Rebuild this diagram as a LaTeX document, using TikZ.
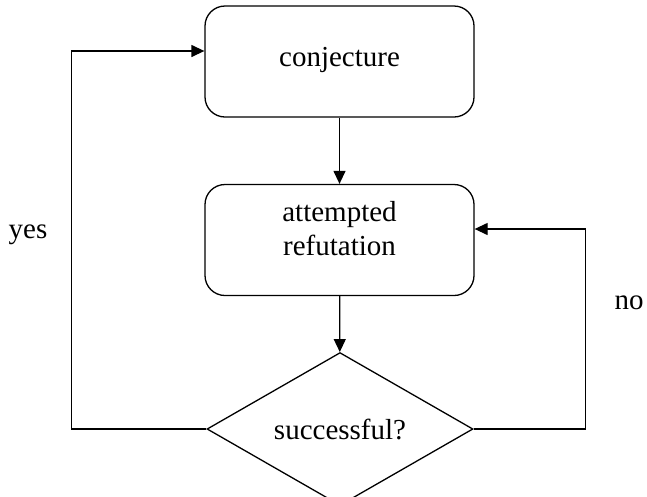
\documentclass[tikz,border=0pt]{standalone}
\usepackage{fontspec}
\setmainfont{Liberation Serif}
\usetikzlibrary{arrows.meta,shapes.geometric,positioning}

\begin{document}
\begin{tikzpicture}[x=1pt, y=-1pt, line width=1.3pt,
    stepbox/.style={draw, rounded corners=20pt, minimum width=269pt, minimum height=111pt, align=center, font=\fontsize{29}{34}\selectfont},
    testbox/.style={draw, diamond, inner sep=0pt, minimum width=266pt, minimum height=132pt, font=\fontsize{29}{34}\selectfont},
    lbl/.style={font=\fontsize{29}{34}\selectfont},
    arr/.style={-{Triangle[length=13pt,width=12pt]}}]
    \useasboundingbox (0,0) rectangle (647,496);
    % process boxes and the test
    \node[stepbox, text depth=10pt] (conj) at (339.5,61.5) {conjecture};
    \node[stepbox, text depth=24pt] (refut) at (339.5,240) {attempted\\refutation};
    \node[testbox] (succ) at (340,429) {successful?};

    % entry points of the loops
    \coordinate (yesin) at ([yshift=10.5pt]conj.west);
    \coordinate (noin) at ([yshift=11pt]refut.east);

    \draw[arr] (conj) -- (refut);
    \draw[arr] (refut) -- (succ);
    \draw[arr] (succ.west) -- ++(-135,0) |- (yesin);
    \draw[arr] (succ.east) -- ++(112,0) |- (noin);

    \node[lbl] (yes) at (28,235) {yes};
    \node[lbl] (no) at (629,303) {no};
\end{tikzpicture}
\end{document}
